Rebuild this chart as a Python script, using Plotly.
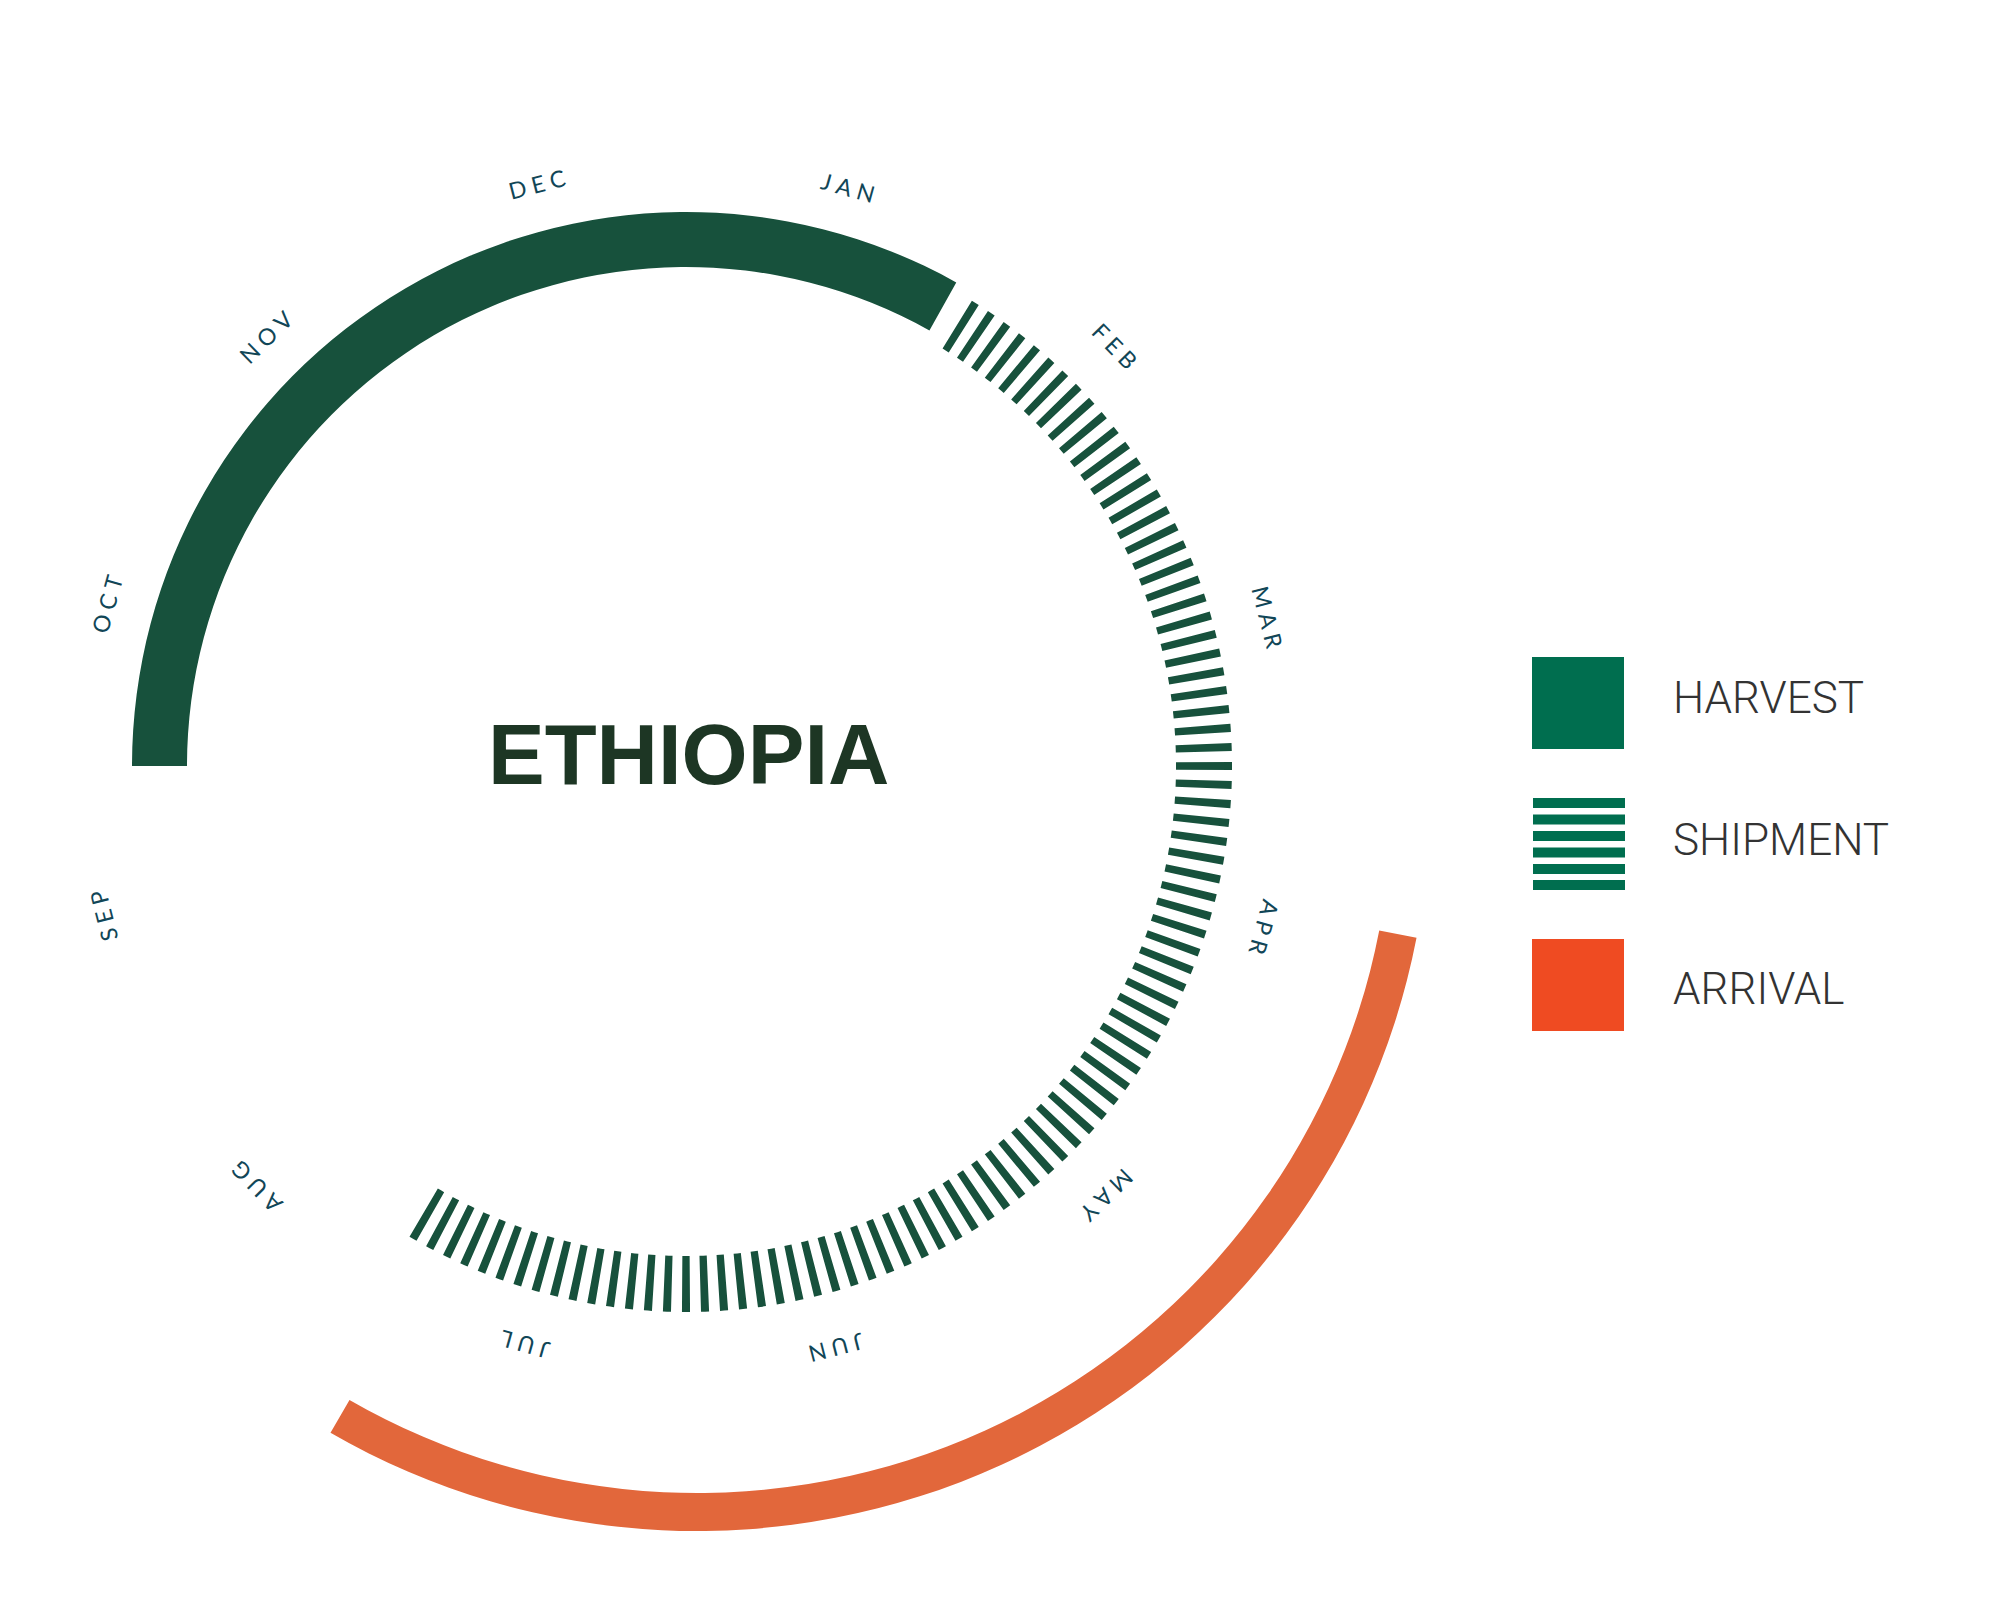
import math
import numpy as np
import plotly.graph_objects as go

W, H = 2009, 1600
OFF = 8.0  # the page body adds an 8px margin; compensate for it

# ---------------- data ----------------
months = ["JAN", "FEB", "MAR", "APR", "MAY", "JUN", "JUL", "AUG", "SEP", "OCT", "NOV", "DEC"]
# calendar angle in degrees: 0 = 1 Jan at the top, clockwise, 30 degrees per month
harvest_period = [270.0, 389.2]     # 1 Oct -> ~29 Jan
shipment_period = [32.0, 210.0]     # ~2 Feb -> 31 Jul
shipment_step = 2.0                 # one dash every ~2 days
arrival_period = [101.0, 210.0]     # ~11 Apr -> 31 Jul
legend_labels = ["HARVEST", "SHIPMENT", "ARRIVAL"]
title_text = "ETHIOPIA"

# ---------------- styles ----------------
GREEN_DARK = "#17513C"
ORANGE = "#E2673B"
LEG_GREEN = "#006E4F"
LEG_ORANGE = "#EF4B22"
LABEL_COLOR = "#114657"
TITLE_COLOR = "#1D3624"

C1 = (686.0 - OFF, 766.0 - OFF)   # centre (px) of the harvest/shipment ring
R1 = 600.0                        # radial range of polar 1 (1 unit = 1 px)
C2 = (697.0 - OFF, 798.0 - OFF)   # centre (px) of the arrival arc
R2 = 745.0
SECTOR2 = [-125.0, -5.0]

harvest_ring = (499.0, 55.0)    # base, thickness
shipment_ring = (490.0, 56.0)
arrival_ring = (695.0, 38.0)
dash_width = 0.85
label_radius = 601.0
label_angle_offset = 15.6


def px(x, y):
    """target-image pixel -> paper coords"""
    return (x - OFF) / W, 1 - (y - OFF) / H


def sector_bbox(s0, s1):
    arc = s1 - s0
    a0 = s0 % 360
    a1 = a0 + arc
    ax0, ay0 = math.cos(math.radians(a0)), math.sin(math.radians(a0))
    ax1, ay1 = math.cos(math.radians(a1)), math.sin(math.radians(a1))
    if (a0 <= 180 and a1 >= 180) or (a0 > 180 and a1 >= 540):
        x0 = -1
    elif ax0 >= 0 and ax1 >= 0:
        x0 = 0
    else:
        x0 = min(ax0, ax1)
    if (a0 <= 0 and a1 >= 0) or (a0 > 0 and a1 >= 360):
        x1 = 1
    elif ax0 <= 0 and ax1 <= 0:
        x1 = 0
    else:
        x1 = max(ax0, ax1)
    if (a0 <= 90 and a1 >= 90) or (a0 > 90 and a1 >= 450):
        y1 = 1
    elif ay0 <= 0 and ay1 <= 0:
        y1 = 0
    else:
        y1 = max(ay0, ay1)
    if (a0 <= 270 and a1 >= 270) or (a0 > 270 and a1 >= 630):
        y0 = -1
    elif ay0 >= 0 and ay1 >= 0:
        y0 = 0
    else:
        y0 = min(ay0, ay1)
    return x0, y0, x1, y1


def domain_for(center, radius, sector):
    bx0, by0, bx1, by1 = sector_bbox(*sector)
    cx, cy = center
    xl, xr = cx + radius * bx0, cx + radius * bx1
    yt, yb = cy - radius * by1, cy - radius * by0
    return dict(x=[xl / W, xr / W], y=[1 - yb / H, 1 - yt / H])


fig = go.Figure()

# harvest arc
h0, h1 = harvest_period
fig.add_trace(go.Barpolar(
    theta=[(h0 + h1) / 2], width=[h1 - h0], r=[harvest_ring[1]], base=[harvest_ring[0]],
    marker=dict(color=GREEN_DARK, line=dict(width=0)), subplot="polar", hoverinfo="skip"))

# shipment dashes
dash_theta = np.arange(shipment_period[0], shipment_period[1] + 0.001, shipment_step)
fig.add_trace(go.Barpolar(
    theta=dash_theta, width=[dash_width] * len(dash_theta),
    r=[shipment_ring[1]] * len(dash_theta), base=[shipment_ring[0]] * len(dash_theta),
    marker=dict(color=GREEN_DARK, line=dict(width=0)), subplot="polar", hoverinfo="skip"))

# arrival arc
a0, a1 = arrival_period
fig.add_trace(go.Barpolar(
    theta=[(a0 + a1) / 2], width=[a1 - a0], r=[arrival_ring[1]], base=[arrival_ring[0]],
    marker=dict(color=ORANGE, line=dict(width=0)), subplot="polar2", hoverinfo="skip"))

hidden_ang = dict(rotation=90, direction="clockwise", showgrid=False, showline=False,
                  showticklabels=False, ticks="", thetaunit="degrees")

fig.update_layout(
    width=W, height=H,
    margin=dict(l=0, r=0, t=0, b=0, pad=0, autoexpand=False),
    paper_bgcolor="white", plot_bgcolor="white",
    showlegend=False,
    polar=dict(domain=domain_for(C1, R1, [0, 360]), bgcolor="rgba(0,0,0,0)",
               radialaxis=dict(range=[0, R1], visible=False),
               angularaxis=hidden_ang),
    polar2=dict(domain=domain_for(C2, R2, SECTOR2), sector=SECTOR2, bgcolor="rgba(0,0,0,0)",
                radialaxis=dict(range=[0, R2], visible=False),
                angularaxis=hidden_ang),
)

annotations = []
# month labels, centred in each month, tangential
for i, m in enumerate(months):
    ang = label_angle_offset + 30 * i
    x = C1[0] + label_radius * math.sin(math.radians(ang))
    y = C1[1] - label_radius * math.cos(math.radians(ang))
    ta = ang if ang <= 180 else ang - 360
    annotations.append(dict(
        x=x / W, y=1 - y / H, xref="paper", yref="paper", showarrow=False,
        text="\u2009\u2009".join(m), textangle=ta, xanchor="center", yanchor="middle",
        font=dict(family="Lato, Open Sans, sans-serif", size=23, color=LABEL_COLOR)))

# title
tx, ty = px(688, 754)
annotations.append(dict(
    x=tx, y=ty, xref="paper", yref="paper", showarrow=False,
    text="<b>%s</b>" % title_text, xanchor="center", yanchor="middle",
    font=dict(family="Liberation Sans, Arial, sans-serif", size=85, color=TITLE_COLOR)))


def rect(x0, y0, x1, y1, color):
    px0, py0 = px(x0, y1)
    px1, py1 = px(x1, y0)
    return dict(type="rect", xref="paper", yref="paper", x0=px0, x1=px1, y0=py0, y1=py1,
                fillcolor=color, line=dict(width=0), layer="above")


# legend
shapes = [rect(1532, 657, 1624, 749, LEG_GREEN)]
for top in [798, 814.5, 831, 847.5, 864, 880]:
    shapes.append(rect(1533, top, 1625, top + 10, LEG_GREEN))
shapes.append(rect(1532, 939, 1624, 1031, LEG_ORANGE))

for lab, yc in zip(legend_labels, [697.5, 840, 989]):
    lx, ly = px(1671, yc)
    annotations.append(dict(
        x=lx, y=ly, xref="paper", yref="paper", showarrow=False,
        text=lab, xanchor="left", yanchor="middle",
        font=dict(family="Roboto, Liberation Sans, sans-serif", size=44, weight=300, color="#333333")))

fig.update_layout(annotations=annotations, shapes=shapes)

fig.write_html("out.html")
